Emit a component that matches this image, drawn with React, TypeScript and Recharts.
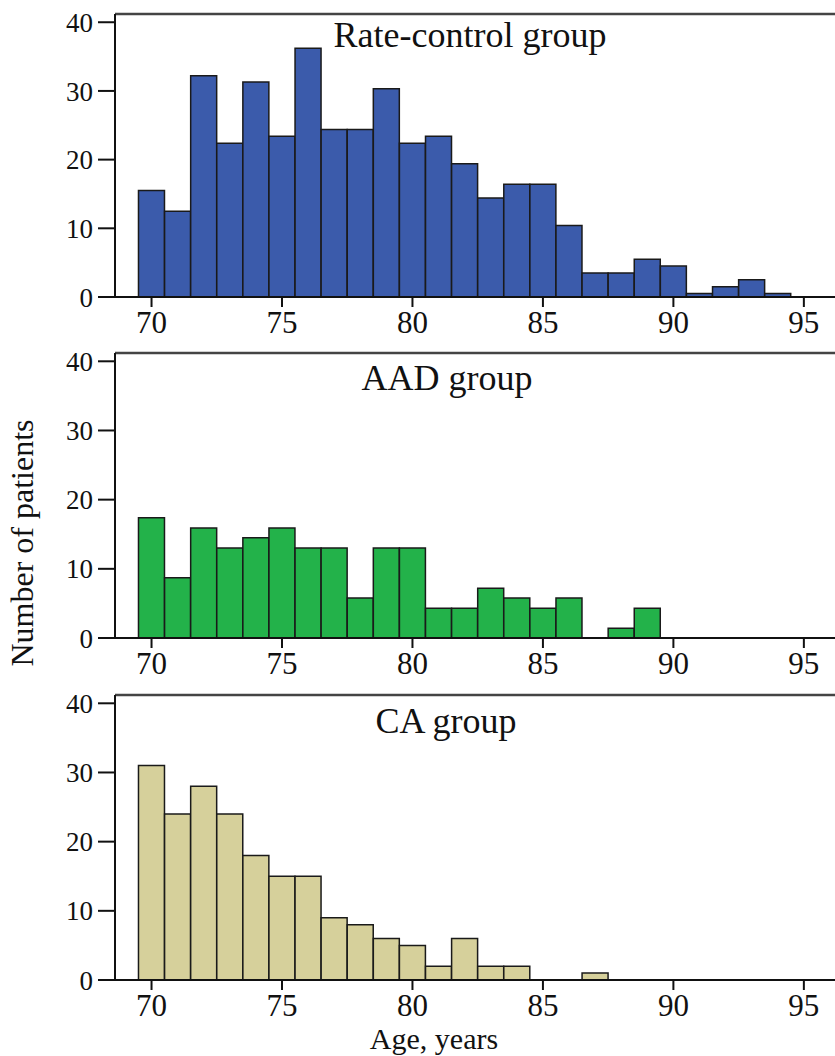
import React from 'react';
import { ComposedChart, Bar, XAxis, YAxis, ReferenceLine } from 'recharts';

// age bins (one year wide, centred on the integer age)
const ages = [70, 71, 72, 73, 74, 75, 76, 77, 78, 79, 80, 81, 82, 83, 84, 85, 86, 87, 88, 89, 90, 91, 92, 93, 94, 95];

// patient counts per bin
const rateControl = [15.5, 12.5, 32.2, 22.4, 31.3, 23.4, 36.2, 24.4, 24.4, 30.3, 22.4, 23.4, 19.4, 14.4, 16.4, 16.4, 10.4, 3.5, 3.5, 5.5, 4.5, 0.5, 1.5, 2.5, 0.5, 0];
const aad = [17.4, 8.7, 15.9, 13, 14.5, 15.9, 13, 13, 5.8, 13, 13, 4.3, 4.3, 7.2, 5.8, 4.3, 5.8, 0, 1.4, 4.3, 0, 0, 0, 0, 0, 0];
const ca = [31, 24, 28, 24, 18, 15, 15, 9, 8, 6, 5, 2, 6, 2, 2, 0, 0, 1, 0, 0, 0, 0, 0, 0, 0, 0];

const xTicks = [70, 75, 80, 85, 90, 95];
const yTicks = [0, 10, 20, 30, 40];

const FONT = '"Liberation Serif", "Times New Roman", serif';
const Y_MAX = 41.2;

type PanelProps = {
  title: string;
  values: number[];
  color: string;
  top: number;
  plotTop: number;
  plotBottom: number;
  titleX: number;
  titleBaseline: number;
};

function Panel({ title, values, color, top, plotTop, plotBottom, titleX, titleBaseline }: PanelProps) {
  const data = ages.map((age, i) => ({ age, n: values[i] ?? 0 }));
  const axisH = 50;
  const height = plotBottom - top + axisH;
  return (
    <>
      <div style={{ position: 'absolute', left: 0, top }}>
        <ComposedChart
          width={843}
          height={height}
          data={data}
          margin={{ top: plotTop - top, right: 0, bottom: 0, left: 0 }}
        >
          <XAxis
            type="number"
            dataKey="age"
            domain={[68.6, 96.5]}
            allowDataOverflow
            ticks={xTicks}
            interval={0}
            height={axisH}
            tickSize={10}
            tickMargin={4}
            axisLine={{ stroke: '#111', strokeWidth: 2 }}
            tickLine={{ stroke: '#111', strokeWidth: 2 }}
            tick={{ fontSize: 31, fill: '#111', fontFamily: FONT }}
          />
          <YAxis
            type="number"
            domain={[0, Y_MAX]}
            ticks={yTicks}
            interval={0}
            width={115}
            tickSize={17}
            tickMargin={5}
            axisLine={{ stroke: '#111', strokeWidth: 2 }}
            tickLine={{ stroke: '#111', strokeWidth: 2 }}
            tick={{ fontSize: 27, fill: '#111', fontFamily: FONT }}
          />
          <ReferenceLine y={Y_MAX} stroke="#444" strokeWidth={2.5} />
          <Bar
            dataKey="n"
            fill={color}
            stroke="#1a1a1a"
            strokeWidth={1.5}
            barSize={26}
            isAnimationActive={false}
          />
        </ComposedChart>
      </div>
      <div
        style={{
          position: 'absolute',
          left: titleX - 250,
          width: 500,
          top: titleBaseline - 30,
          fontSize: 36,
          lineHeight: '36px',
          textAlign: 'center',
          color: '#111',
        }}
      >
        {title}
      </div>
    </>
  );
}

export default function App() {
  return (
    <div
      style={{
        position: 'absolute',
        left: 0,
        top: 0,
        width: 835,
        height: 1056,
        overflow: 'hidden',
        background: '#fff',
        fontFamily: FONT,
      }}
    >
      <Panel title="Rate-control group" values={rateControl} color="#3B5BAB" top={0} plotTop={14} plotBottom={297} titleX={470} titleBaseline={47} />
      <Panel title="AAD group" values={aad} color="#23B24A" top={345} plotTop={353} plotBottom={638} titleX={447} titleBaseline={390} />
      <Panel title="CA group" values={ca} color="#D6D09B" top={688} plotTop={695} plotBottom={980} titleX={446} titleBaseline={733} />

      <div
        style={{
          position: 'absolute',
          left: 22 - 160,
          top: 543 - 20,
          width: 320,
          height: 40,
          lineHeight: '40px',
          fontSize: 32,
          textAlign: 'center',
          color: '#111',
          transform: 'rotate(-90deg)',
        }}
      >
        Number of patients
      </div>
      <div
        style={{
          position: 'absolute',
          left: 434 - 150,
          width: 300,
          top: 1024,
          fontSize: 30,
          lineHeight: '30px',
          textAlign: 'center',
          color: '#111',
        }}
      >
        Age, years
      </div>
    </div>
  );
}
